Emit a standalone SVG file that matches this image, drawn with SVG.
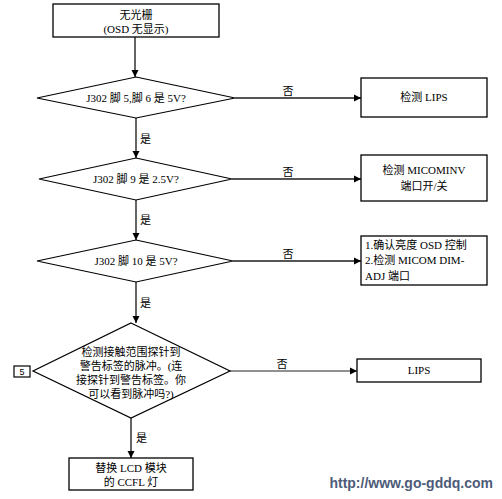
<svg xmlns="http://www.w3.org/2000/svg" width="502" height="499" viewBox="0 0 502 499">
<defs>
<marker id="ah" markerWidth="8" markerHeight="8" refX="7" refY="4" orient="auto" markerUnits="userSpaceOnUse">
<path d="M0,0.5 L7,4 L0,7.5 Z" fill="#000"/>
</marker>
<style>
.b{fill:#fff;stroke:#000;stroke-width:1.3}
.d{fill:#fff;stroke:#000;stroke-width:1.2}
.t{font-family:"Liberation Serif","Noto Sans CJK SC",serif;font-size:11px;fill:#000}
.c{text-anchor:middle}
.l{fill:none;stroke:#555;stroke-width:1.8}
</style>
</defs>
<rect width="502" height="499" fill="#fff"/>
<g id="connectors">
<line class="l" x1="135" y1="37" x2="135" y2="77" marker-end="url(#ah)"/>
<line class="l" x1="136" y1="118" x2="136" y2="158" marker-end="url(#ah)"/>
<line class="l" x1="136" y1="200" x2="136" y2="240" marker-end="url(#ah)"/>
<line class="l" x1="136" y1="282" x2="136" y2="323" marker-end="url(#ah)"/>
<line class="l" x1="131" y1="418" x2="131" y2="458" marker-end="url(#ah)"/>
<line class="l" x1="235" y1="98" x2="361" y2="98" marker-end="url(#ah)"/>
<line class="l" x1="232" y1="179" x2="361" y2="179" marker-end="url(#ah)"/>
<line class="l" x1="233" y1="261" x2="361" y2="261" marker-end="url(#ah)"/>
<line class="l" x1="230" y1="371" x2="357" y2="371" style="stroke:#222;stroke-width:1.2" marker-end="url(#ah)"/>
<text class="t" x="140" y="143">是</text>
<text class="t" x="140" y="224">是</text>
<text class="t" x="140" y="307">是</text>
<text class="t" x="136" y="442">是</text>
<text class="t c" x="288" y="95">否</text>
<text class="t c" x="288" y="176">否</text>
<text class="t c" x="288" y="258">否</text>
<text class="t c" x="282" y="368">否</text>
</g>
<g id="start">
<rect class="b" x="53" y="4" width="166" height="33"/>
<text class="t c" x="136" y="19">无光栅</text>
<text class="t c" x="136" y="33">(OSD 无显示)</text>
</g>
<g id="dec1">
<polygon class="d" points="136,77 235,98 136,118 37,98"/>
<text class="t c" x="136" y="102">J302 脚 5,脚 6 是 5V?</text>
</g>
<g id="box1">
<rect class="b" x="361" y="78" width="126" height="39"/>
<text class="t c" x="424" y="101">检测 LIPS</text>
</g>
<g id="dec2">
<polygon class="d" points="136,158 232,179 136,200 39,179"/>
<text class="t c" x="136" y="183">J302 脚 9 是 2.5V?</text>
</g>
<g id="box2">
<rect class="b" x="361" y="155" width="126" height="46"/>
<text class="t c" x="424" y="174">检测 MICOMINV</text>
<text class="t c" x="424" y="190">端口开/关</text>
</g>
<g id="dec3">
<polygon class="d" points="136,240 233,261 136,282 37,261"/>
<text class="t c" x="136" y="265">J302 脚 10 是 5V?</text>
</g>
<g id="box3">
<rect class="b" x="361" y="236" width="126" height="49"/>
<text class="t" x="365" y="249">1.确认亮度 OSD 控制</text>
<text class="t" x="365" y="264">2.检测 MICOM DIM-</text>
<text class="t" x="365" y="280">ADJ 端口</text>
</g>
<g id="dec4">
<polygon class="d" points="131,323 230,371 131,418 33,371"/>
<text class="t c" x="131" y="356">检测接触范围探针到</text>
<text class="t c" x="131" y="370">警告标签的脉冲。(连</text>
<text class="t c" x="131" y="384">接探针到警告标签。你</text>
<text class="t c" x="131" y="398">可以看到脉冲吗?)</text>
</g>
<g id="ref5">
<rect x="14" y="366" width="16" height="11" fill="#fff" stroke="#000" stroke-width="1.2"/>
<text x="22" y="375" text-anchor="middle" font-family="Liberation Sans,sans-serif" font-size="9">5</text>
</g>
<g id="box4">
<rect class="b" x="357" y="359" width="124" height="23"/>
<text class="t c" x="419" y="374">LIPS</text>
</g>
<g id="end">
<rect class="b" x="69" y="458" width="124" height="32"/>
<text class="t c" x="131" y="472">替换 LCD 模块</text>
<text class="t c" x="131" y="486">的 CCFL 灯</text>
</g>
<text x="493" y="488" text-anchor="end" font-family="Liberation Sans,sans-serif" font-size="14" font-weight="bold" fill="#4d5b78">http://www.go-gddq.com</text>
</svg>
